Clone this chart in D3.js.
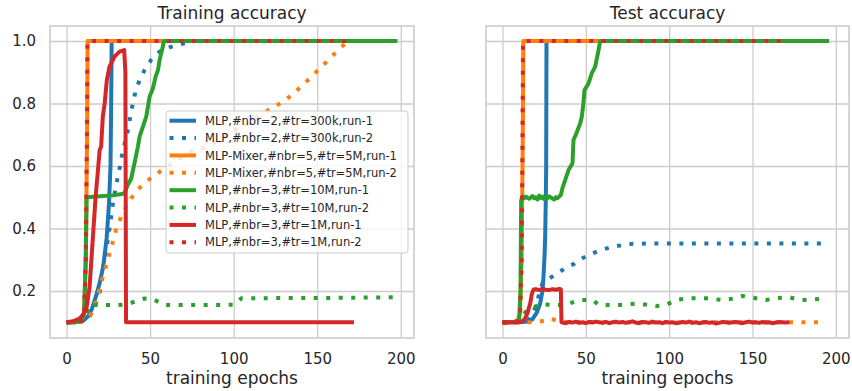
<!DOCTYPE html>
<html>
<head>
<meta charset="utf-8">
<script src="https://cdn.jsdelivr.net/npm/d3@7/dist/d3.min.js"></script>
<style>
  body { margin: 0; background: #fff; }
  text { font-family: "DejaVu Sans", sans-serif; fill: #262626; }
</style>
</head>
<body>
<script>
// series labels, colours and styles (draw order)
const labels = ["MLP,#nbr=2,#tr=300k,run-1", "MLP,#nbr=2,#tr=300k,run-2",
    "MLP-Mixer,#nbr=5,#tr=5M,run-1", "MLP-Mixer,#nbr=5,#tr=5M,run-2",
    "MLP,#nbr=3,#tr=10M,run-1", "MLP,#nbr=3,#tr=10M,run-2",
    "MLP,#nbr=3,#tr=1M,run-1", "MLP,#nbr=3,#tr=1M,run-2"];
const colors = ["#1f77b4", "#1f77b4", "#ff7f0e", "#ff7f0e", "#2ca02c", "#2ca02c", "#d62728", "#d62728"];
const dotted = [false, true, false, true, false, true, false, true];

const xTicks = [0, 50, 100, 150, 200];
const yTicks = [0.2, 0.4, 0.6, 0.8, 1.0];

// training accuracy, [epoch, acc]
const trainB1 = [[0,0.1],[5,0.1],[10,0.105],[13,0.12],[15,0.14],[18,0.19],[20,0.23],[22,0.28],[24,0.37],[25.4,0.48],[26.3,0.6],[26.7,0.8],[27,1.0]];
const trainB2 = [[0,0.1],[5,0.1],[10,0.103],[14,0.12],[17,0.15],[20,0.2],[22,0.28],[24,0.34],[26,0.41],[28,0.49],[30.5,0.56],[32,0.6],[33,0.63],[34.7,0.67],[36.7,0.715],[38.7,0.775],[41.3,0.84],[43.7,0.875],[46.7,0.907],[50.7,0.94],[55.7,0.966],[61.7,0.98],[68.7,0.99],[75,1.0],[197,1.0]];
const trainO1 = [[0,0.1],[5,0.1],[9,0.105],[10.5,0.13],[11.5,0.3],[12.3,0.7],[12.6,1.0],[100,1.0]];
const trainO2 = [[0,0.1],[5,0.1],[10,0.103],[14,0.12],[18,0.17],[21.7,0.246],[24.7,0.3],[26.8,0.34],[29.8,0.4],[32.8,0.438],[35.7,0.47],[38.7,0.497],[43.7,0.53],[47.7,0.55],[53.7,0.574],[58,0.59],[63.7,0.609],[71.7,0.64],[83.7,0.662],[91.6,0.683],[100.6,0.715],[108.6,0.737],[117.6,0.769],[124.6,0.79],[130.5,0.81],[135.5,0.83],[140.5,0.855],[145.5,0.88],[150.5,0.907],[155.5,0.933],[160.5,0.96],[165.5,0.986],[168,1.0],[197,1.0]];
const trainG1 = [[0,0.1],[5,0.1],[9,0.105],[10.5,0.13],[11.5,0.3],[12,0.5],[20,0.503],[28,0.506],[34.5,0.512],[36.7,0.54],[38.7,0.56],[40.7,0.61],[42.7,0.662],[43.7,0.694],[45.7,0.726],[47.7,0.758],[49.7,0.822],[51.7,0.849],[53.3,0.886],[54.7,0.907],[55.7,0.94],[57.1,0.97],[58.3,1.0],[198,1.0]];
const trainG2 = [[0,0.1],[5,0.1],[9,0.103],[11,0.12],[13.5,0.155],[20,0.155],[30,0.155],[36,0.157],[40.7,0.166],[46.7,0.176],[52,0.173],[55,0.165],[58.7,0.155],[70,0.155],[80,0.155],[90,0.155],[100,0.156],[104.6,0.177],[120,0.177],[140,0.178],[160,0.178],[180,0.179],[196,0.18]];
const trainR1 = [[0,0.1],[4,0.103],[7.8,0.112],[10,0.125],[11.8,0.14],[13.8,0.214],[15.8,0.374],[17.4,0.502],[18.8,0.587],[19.8,0.651],[20.7,0.662],[21.7,0.758],[22.8,0.8],[24.1,0.875],[25.7,0.918],[28.7,0.95],[31.7,0.966],[34.5,0.971],[35.2,0.9],[35.4,0.5],[35.6,0.1],[60,0.1],[100,0.1],[140,0.1],[172,0.1]];
const trainR2 = [[0,0.1],[5,0.1],[9,0.105],[10.5,0.13],[11.5,0.3],[12.2,0.7],[12.5,1.0],[168,1.0]];

// test accuracy, [epoch, acc]
const testB1 = [[0,0.1],[5,0.1],[10,0.1],[15,0.102],[18,0.11],[20.5,0.13],[22.6,0.16],[24,0.2],[24.6,0.246],[25.3,0.32],[25.6,0.374],[26,0.5],[26.2,0.59],[26.4,1.0]];
const testB2 = [[0,0.1],[5,0.1],[10,0.1],[15.6,0.107],[20,0.15],[22,0.19],[24,0.225],[28,0.24],[33,0.257],[39,0.278],[43,0.287],[48,0.305],[54,0.32],[59,0.331],[65,0.34],[72,0.347],[78,0.351],[90,0.352],[110,0.352],[130,0.352],[150,0.352],[170,0.352],[195,0.352]];
const testO1 = [[0,0.1],[5,0.1],[9,0.103],[10.5,0.13],[11.5,0.3],[12.2,0.7],[12.5,1.0],[100,1.0]];
const testO2 = [[0,0.1],[10,0.1],[15,0.1],[20,0.1],[25,0.105],[29,0.112],[33,0.104],[40,0.1],[50,0.101],[60,0.1],[80,0.1],[100,0.1],[120,0.1],[140,0.1],[160,0.1],[180,0.1],[194,0.1]];
const testG1 = [[0,0.1],[4,0.1],[8,0.102],[10,0.11],[10.8,0.2],[11.2,0.49],[12,0.503],[13,0.497],[14,0.502],[15,0.498],[16,0.495],[17,0.5],[18,0.504],[19,0.497],[20,0.5],[21,0.493],[22,0.505],[23,0.498],[24,0.502],[25,0.494],[26,0.5],[27,0.497],[28,0.503],[29,0.499],[30,0.496],[31,0.493],[32,0.5],[33,0.497],[34,0.503],[35,0.507],[36,0.53],[37.6,0.555],[39.6,0.587],[42,0.609],[42.6,0.683],[44,0.7],[46.6,0.736],[47.6,0.758],[48.5,0.8],[49.2,0.843],[51.6,0.864],[53.6,0.897],[55.6,0.918],[57.6,0.97],[58.6,1.0],[196,1.0]];
const testG2 = [[0,0.1],[5,0.1],[9,0.103],[11.6,0.118],[15,0.14],[19.6,0.15],[22.6,0.16],[28.6,0.155],[35,0.155],[40,0.16],[46,0.171],[54,0.171],[58,0.155],[70,0.155],[81,0.16],[92,0.152],[98,0.155],[104,0.171],[112,0.177],[122,0.177],[132,0.171],[140,0.177],[144,0.184],[152,0.177],[158,0.171],[164,0.177],[172,0.18],[179,0.171],[186,0.173],[195,0.177]];
const testR1 = [[0,0.1],[2,0.098],[4,0.101],[6,0.099],[8,0.1],[10,0.101],[12,0.103],[13.6,0.112],[15,0.13],[16.6,0.16],[17.6,0.19],[18.6,0.205],[20,0.206],[22,0.203],[24,0.207],[26,0.204],[28,0.203],[30,0.206],[32,0.204],[34,0.207],[35,0.205],[35.4,0.1],
    [38,0.097],[40,0.101],[42,0.099],[44,0.102],[46,0.098],[48,0.1],[50,0.097],[52,0.101],[54,0.099],[56,0.102],[58,0.1],[60,0.098],[62,0.101],[64,0.097],[66,0.1],[68,0.102],[70,0.099],[72,0.101],[74,0.098],[76,0.1],[78,0.103],[80,0.099],[82,0.097],[84,0.101],[86,0.1],[88,0.098],[90,0.102],[92,0.099],[94,0.1],[96,0.097],[98,0.101],[100,0.099],[102,0.1],[104,0.097],[106,0.098],[108,0.101],[110,0.099],[112,0.102],[114,0.098],[116,0.1],[118,0.097],[120,0.099],[122,0.101],[124,0.098],[126,0.1],[128,0.096],[130,0.098],[132,0.101],[134,0.1],[136,0.098],[138,0.1],[140,0.101],[142,0.099],[144,0.097],[146,0.1],[148,0.102],[150,0.099],[152,0.1],[154,0.098],[156,0.101],[158,0.099],[160,0.1],[162,0.097],[164,0.099],[166,0.101],[168,0.1],[170,0.099],[172,0.1]];
const testR2 = [[0,0.1],[5,0.1],[9,0.102],[10.5,0.12],[11.5,0.3],[12,0.7],[12.3,1.0],[169,1.0]];

const trainSeries = [trainB1, trainB2, trainO1, trainO2, trainG1, trainG2, trainR1, trainR2];
const testSeries = [testB1, testB2, testO1, testO2, testG1, testG2, testR1, testR2];

// layout
const width = 852, height = 391;
const plotTop = 26, plotBottom = 338;
const lineWidth = 4;
const dotDash = "4,8.5";

const svg = d3.select("body").append("svg")
    .attr("width", width)
    .attr("height", height);

const y = d3.scaleLinear().domain([0.0496, 1.048]).range([plotBottom, plotTop]);

function drawPanel(id, left, right, title, series, showYLabels) {
    const x = d3.scaleLinear().domain([-9.9, 207.9]).range([left, right]);
    const g = svg.append("g");

    svg.append("clipPath").attr("id", "clip" + id)
        .append("rect")
        .attr("x", left).attr("y", plotTop)
        .attr("width", right - left).attr("height", plotBottom - plotTop);

    // grid + tick labels
    g.append("g")
        .attr("transform", "translate(0," + plotBottom + ")")
        .call(d3.axisBottom(x).tickValues(xTicks).tickSize(-(plotBottom - plotTop)).tickPadding(15).tickFormat(d3.format("d")))
        .call(a => a.select(".domain").remove())
        .call(a => a.selectAll("line").attr("stroke", "#cccccc").attr("stroke-width", 1.3))
        .call(a => a.selectAll("text").style("font-size", "15px").attr("fill", "#262626"));

    g.append("g")
        .attr("transform", "translate(" + left + ",0)")
        .call(d3.axisLeft(y).tickValues(yTicks).tickSize(-(right - left)).tickPadding(14)
            .tickFormat(showYLabels ? d3.format(".1f") : () => ""))
        .call(a => a.select(".domain").remove())
        .call(a => a.selectAll("line").attr("stroke", "#cccccc").attr("stroke-width", 1.3))
        .call(a => a.selectAll("text").style("font-size", "15px").attr("fill", "#262626"));

    // lines
    const line = d3.line()
        .x(d => x(d[0]))
        .y(d => y(d[1]));

    const lines = g.append("g").attr("clip-path", "url(#clip" + id + ")");
    series.forEach(function (data, i) {
        lines.append("path")
            .attr("d", line(data))
            .attr("fill", "none")
            .attr("stroke", colors[i])
            .attr("stroke-width", lineWidth)
            .attr("stroke-linejoin", "round")
            .attr("stroke-dasharray", dotted[i] ? dotDash : null);
    });

    // frame
    g.append("rect")
        .attr("x", left).attr("y", plotTop)
        .attr("width", right - left).attr("height", plotBottom - plotTop)
        .attr("fill", "none")
        .attr("stroke", "#cccccc")
        .attr("stroke-width", 1.6);

    g.append("text")
        .attr("x", (left + right) / 2).attr("y", 19)
        .attr("text-anchor", "middle")
        .style("font-size", "17px")
        .text(title);

    g.append("text")
        .attr("x", (left + right) / 2).attr("y", 384)
        .attr("text-anchor", "middle")
        .style("font-size", "17px")
        .text("training epochs");
}

drawPanel(0, 50, 414, "Training accuracy", trainSeries, true);
drawPanel(1, 486, 849, "Test accuracy", testSeries, false);

// legend in the training panel
const legend = svg.append("g").attr("transform", "translate(166,111)");
legend.append("rect")
    .attr("width", 242).attr("height", 142)
    .attr("rx", 3)
    .attr("fill", "white").attr("fill-opacity", 0.8)
    .attr("stroke", "#cccccc").attr("stroke-width", 1);

labels.forEach(function (name, i) {
    const ly = 9.7 + i * 17.37;
    legend.append("line")
        .attr("x1", 3.5).attr("x2", 30)
        .attr("y1", ly).attr("y2", ly)
        .attr("stroke", colors[i])
        .attr("stroke-width", lineWidth)
        .attr("stroke-dasharray", dotted[i] ? dotDash : null);
    legend.append("text")
        .attr("x", 39).attr("y", ly)
        .attr("dy", "0.36em")
        .style("font-size", "11.5px")
        .text(name);
});
</script>
</body>
</html>
